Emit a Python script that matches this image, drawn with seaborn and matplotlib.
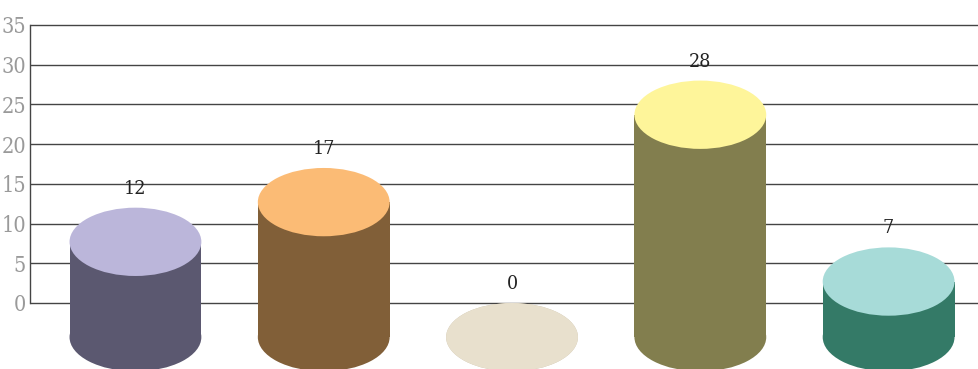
import numpy as np
import pandas as pd
import seaborn as sns
import matplotlib.pyplot as plt
from matplotlib.patches import Ellipse

# Data
categories = ['A', 'B', 'C', 'D', 'E']
values = [12, 17, 0, 28, 7]
side_colors = ['#5b5870', '#815f38', '#c9bfa8', '#827e4e', '#347a67']
top_colors = ['#bbb6da', '#fbbb75', '#e8e0cd', '#fef59a', '#a7dbd8']
yticks = [0, 5, 10, 15, 20, 25, 30, 35]

df = pd.DataFrame({'category': categories, 'value': values})

sns.set_theme(style='white')
plt.rcParams['font.family'] = ['DejaVu Serif', 'Liberation Serif']
plt.rcParams['font.stretch'] = 'condensed'

fig = plt.figure(figsize=(9.79, 3.69), dpi=100)
ax = fig.add_axes([30 / 979, 0, 1 - 30 / 979, 1 - 23.4 / 369])

# cylinder geometry (data units)
bar_w = 0.70
ell_h = 8.6

# sides of the cylinders via seaborn bars, shifted down by half an ellipse
sns.barplot(data=df, x='category', y='value', hue='category',
            palette=side_colors, width=bar_w, legend=False,
            saturation=1, ax=ax, zorder=2)
for p in ax.patches:
    p.set_y(p.get_y() - ell_h / 2)
    p.set_linewidth(0)

for i, v in enumerate(values):
    # bottom cap
    ax.add_patch(Ellipse((i, -ell_h / 2), bar_w, ell_h, facecolor=side_colors[i],
                         edgecolor='none', zorder=1.9))
    # top cap
    ax.add_patch(Ellipse((i, v - ell_h / 2), bar_w, ell_h, facecolor=top_colors[i],
                         edgecolor='none', zorder=3))
    ax.text(i, v + 2.4, str(v), ha='center', va='center', fontsize=14,
            fontstretch='condensed', color='#222222', zorder=4)

ax.set_xlim(-0.56, 4.48)
ax.set_ylim(-8.31, 35.2)
ax.set_yticks(yticks)
ax.set_yticklabels([str(t) for t in yticks], fontsize=15.5, color='#9a9a9a',
                   fontstretch='condensed')
ax.set_xticks([])
ax.set_xlabel('')
ax.set_ylabel('')
ax.tick_params(axis='y', length=0, pad=3)

ax.set_axisbelow(True)
for t in yticks:
    ax.axhline(t, color='#444444', linewidth=1, zorder=0)

for s in ['top', 'right', 'bottom']:
    ax.spines[s].set_visible(False)
ax.spines['left'].set_bounds(0, 35)
ax.spines['left'].set_color('#444444')
ax.spines['left'].set_linewidth(1)

fig.savefig('out.png', dpi=100)
